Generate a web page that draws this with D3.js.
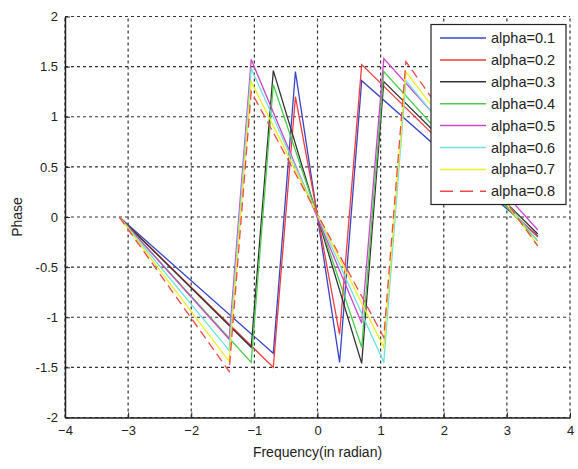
<!DOCTYPE html>
<html lang="en">
<head>
<meta charset="UTF-8">
<script src="https://d3js.org/d3.v7.min.js"></script>
<title>Phase</title>
<style>
body { margin: 0; background: #fff; }
text { font-family: "Liberation Sans", Arial, sans-serif; fill: #222; }
</style>
</head>
<body>
<script>

// phase samples: [frequency (rad), phase]
var alpha01 = [[-3.14, 0], [-0.70, -1.36], [-0.35, 1.45], [0.35, -1.45], [0.70, 1.36], [3.49, -0.19]];
var alpha02 = [[-3.14, 0], [-0.70, -1.50], [-0.35, 1.20], [0.35, -1.17], [0.70, 1.52], [3.49, -0.20]];
var alpha03 = [[-3.14, 0], [-1.05, -1.30], [-0.70, 1.46], [0.70, -1.46], [1.05, 1.35], [3.49, -0.17]];
var alpha04 = [[-3.14, 0], [-1.05, -1.45], [-0.70, 1.32], [0.70, -1.30], [1.05, 1.45], [3.49, -0.24]];
var alpha05 = [[-3.14, 0], [-1.40, -1.22], [-1.05, 1.57], [0.70, -1.06], [1.05, 1.58], [3.49, -0.13]];
var alpha06 = [[-3.14, 0], [-1.40, -1.33], [-1.05, 1.48], [1.05, -1.45], [1.40, 1.36], [3.49, -0.24]];
var alpha07 = [[-3.14, 0], [-1.40, -1.44], [-1.05, 1.35], [1.05, -1.30], [1.40, 1.45], [3.49, -0.28]];
var alpha08 = [[-3.14, 0], [-1.40, -1.54], [-1.05, 1.25], [1.05, -1.20], [1.40, 1.55], [3.49, -0.29]];

var labels = ["alpha=0.1", "alpha=0.2", "alpha=0.3", "alpha=0.4",
              "alpha=0.5", "alpha=0.6", "alpha=0.7", "alpha=0.8"];
var xTicks = [-4, -3, -2, -1, 0, 1, 2, 3, 4];
var yTicks = [-2, -1.5, -1, -0.5, 0, 0.5, 1, 1.5, 2];

var series = [alpha01, alpha02, alpha03, alpha04, alpha05, alpha06, alpha07, alpha08];
var colors = ["#3646c8", "#f03c3c", "#333333", "#4ccc4c", "#cc46cc", "#6ee0e0", "#eeee22", "#f04848"];
var dashes = [null, null, null, null, null, null, null, "9,5"];

var width = 578,
    height = 469;

var x = d3.scaleLinear().domain([-4, 4]).range([65, 570]);
var y = d3.scaleLinear().domain([-2, 2]).range([417.5, 16.5]);

var svg = d3.select("body").append("svg")
    .attr("width", width)
    .attr("height", height);

// dotted grid
svg.append("g").selectAll("line.gx")
    .data(xTicks)
  .enter().append("line")
    .attr("x1", function(d) { return x(d); })
    .attr("x2", function(d) { return x(d); })
    .attr("y1", y(-2))
    .attr("y2", y(2))
    .attr("stroke", "#333")
    .attr("stroke-width", 1.2)
    .attr("stroke-dasharray", "3,3");

svg.append("g").selectAll("line.gy")
    .data(yTicks)
  .enter().append("line")
    .attr("y1", function(d) { return y(d); })
    .attr("y2", function(d) { return y(d); })
    .attr("x1", x(-4))
    .attr("x2", x(4))
    .attr("stroke", "#333")
    .attr("stroke-width", 1.2)
    .attr("stroke-dasharray", "3,3");

// axes, ticks pointing inward
var xAxis = svg.append("g")
    .attr("transform", "translate(0," + y(-2) + ")")
    .call(d3.axisBottom(x).tickValues(xTicks).tickSizeInner(-5).tickSizeOuter(0).tickPadding(8));

var yAxis = svg.append("g")
    .attr("transform", "translate(" + x(-4) + ",0)")
    .call(d3.axisLeft(y).tickValues(yTicks).tickSizeInner(-5).tickSizeOuter(0).tickPadding(7)
      .tickFormat(function(d) { return d; }));

[xAxis, yAxis].forEach(function(a) {
  a.select(".domain").attr("stroke", "#222").attr("stroke-width", 1.5);
  a.selectAll(".tick line").attr("stroke", "#222");
  a.selectAll(".tick text")
      .style("font-size", "13px")
      .style("font-family", "'Liberation Sans', Arial, sans-serif")
      .attr("fill", "#222");
});

// phase curves
var line = d3.line()
    .x(function(d) { return x(d[0]); })
    .y(function(d) { return y(d[1]); });

svg.append("g").selectAll("path")
    .data(series)
  .enter().append("path")
    .attr("d", line)
    .attr("fill", "none")
    .attr("stroke", function(d, i) { return colors[i]; })
    .attr("stroke-width", 1.3)
    .attr("stroke-dasharray", function(d, i) { return dashes[i]; });

// axis titles
svg.append("text")
    .attr("x", x(0))
    .attr("y", 457)
    .attr("text-anchor", "middle")
    .style("font-size", "14px")
    .text("Frequency(in radian)");

svg.append("text")
    .attr("transform", "translate(22," + y(0) + ") rotate(-90)")
    .attr("text-anchor", "middle")
    .style("font-size", "14px")
    .text("Phase");

// legend
var legend = svg.append("g").attr("transform", "translate(431,24.5)");

legend.append("rect")
    .attr("width", 135)
    .attr("height", 180)
    .attr("fill", "#fff")
    .attr("stroke", "#222")
    .attr("stroke-width", 1.2);

var item = legend.selectAll("g.item")
    .data(labels)
  .enter().append("g")
    .attr("transform", function(d, i) { return "translate(0," + (13.5 + i * 21.9) + ")"; });

item.append("line")
    .attr("x1", 9)
    .attr("x2", 55)
    .attr("stroke", function(d, i) { return colors[i]; })
    .attr("stroke-width", 1.5)
    .attr("stroke-dasharray", function(d, i) { return dashes[i] ? "13,7" : null; });

item.append("text")
    .attr("x", 60)
    .attr("dy", "0.35em")
    .style("font-size", "14.5px")
    .text(function(d) { return d; });

</script>
</body>
</html>
